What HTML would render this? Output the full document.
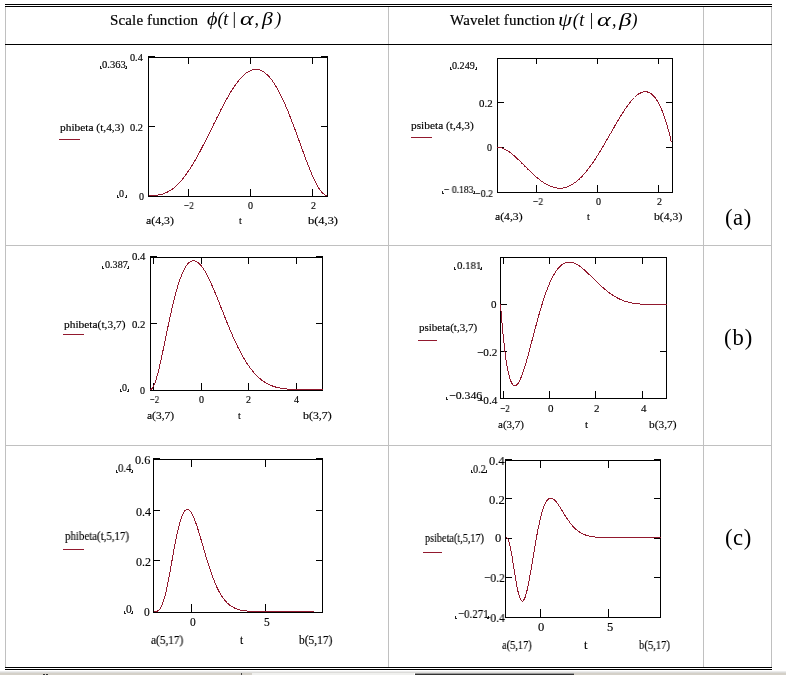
<!DOCTYPE html>
<html><head><meta charset="utf-8"><title>Beta wavelets</title>
<style>
html,body{margin:0;padding:0;background:#fff;}
body{width:786px;height:675px;position:relative;overflow:hidden;font-family:"Liberation Serif",serif;color:#000;}
svg{position:absolute;left:0;top:0;}
.l,.h,.m,.r{will-change:transform;}
.l{position:absolute;white-space:nowrap;line-height:20px;transform-origin:0 50%;font-family:"Liberation Serif",serif;-webkit-text-stroke:0.15px #000;}
.h{position:absolute;white-space:nowrap;font-size:15px;line-height:20px;top:9.5px;-webkit-text-stroke:0.2px #000;}
.m{position:absolute;white-space:nowrap;font-size:18px;line-height:24px;font-style:italic;top:7px;}
.m i{position:absolute;top:0;font-style:italic;transform-origin:0 50%;}
.r{position:absolute;white-space:nowrap;font-size:22.67px;line-height:28px;left:724.5px;}
.bar{position:absolute;left:0;top:671px;width:786px;height:4px;background:#fff;}
.bar b{position:absolute;display:block;}
</style></head><body>
<svg width="786" height="675" viewBox="0 0 786 675" shape-rendering="crispEdges">
<rect x="5" y="4" width="767" height="1" fill="#000"/>
<rect x="5" y="6" width="767" height="1" fill="#000"/>
<rect x="5" y="44" width="767" height="1" fill="#000"/>
<rect x="5" y="7" width="1" height="660" fill="#c0c0c0"/>
<rect x="388" y="7" width="1" height="660" fill="#c0c0c0"/>
<rect x="703" y="7" width="1" height="660" fill="#c0c0c0"/>
<rect x="771" y="7" width="1" height="660" fill="#c0c0c0"/>
<rect x="5" y="44" width="767" height="1" fill="#000"/>
<rect x="5" y="245" width="767" height="1" fill="#c0c0c0"/>
<rect x="5" y="445" width="767" height="1" fill="#c0c0c0"/>
<rect x="5" y="667" width="767" height="1" fill="#000"/>
<rect x="5" y="669" width="767" height="1" fill="#000"/>
<rect x="148" y="57" width="180" height="1" fill="#000"/>
<rect x="148" y="196" width="180" height="1" fill="#000"/>
<rect x="148" y="57" width="1" height="140" fill="#000"/>
<rect x="327" y="57" width="1" height="140" fill="#000"/>
<rect x="188" y="189" width="1" height="7" fill="#000"/>
<rect x="188" y="58" width="1" height="6" fill="#000"/>
<rect x="250" y="189" width="1" height="7" fill="#000"/>
<rect x="250" y="58" width="1" height="6" fill="#000"/>
<rect x="312" y="189" width="1" height="7" fill="#000"/>
<rect x="312" y="58" width="1" height="6" fill="#000"/>
<rect x="148" y="56" width="7" height="1" fill="#000"/>
<rect x="321" y="56" width="7" height="1" fill="#000"/>
<rect x="149" y="126" width="6" height="1" fill="#000"/>
<rect x="321" y="126" width="6" height="1" fill="#000"/>
<rect x="497" y="58" width="176" height="1" fill="#000"/>
<rect x="497" y="192" width="176" height="1" fill="#000"/>
<rect x="497" y="58" width="1" height="135" fill="#000"/>
<rect x="672" y="58" width="1" height="135" fill="#000"/>
<rect x="536" y="185" width="1" height="7" fill="#000"/>
<rect x="536" y="59" width="1" height="5" fill="#000"/>
<rect x="597" y="185" width="1" height="7" fill="#000"/>
<rect x="597" y="59" width="1" height="5" fill="#000"/>
<rect x="658" y="185" width="1" height="7" fill="#000"/>
<rect x="658" y="59" width="1" height="5" fill="#000"/>
<rect x="498" y="147" width="6" height="1" fill="#000"/>
<rect x="666" y="147" width="6" height="1" fill="#000"/>
<rect x="498" y="102" width="6" height="1" fill="#000"/>
<rect x="666" y="102" width="6" height="1" fill="#000"/>
<rect x="150" y="257" width="173" height="1" fill="#000"/>
<rect x="150" y="390" width="173" height="1" fill="#000"/>
<rect x="150" y="257" width="1" height="134" fill="#000"/>
<rect x="322" y="257" width="1" height="134" fill="#000"/>
<rect x="153" y="383" width="1" height="7" fill="#000"/>
<rect x="153" y="258" width="1" height="6" fill="#000"/>
<rect x="201" y="383" width="1" height="7" fill="#000"/>
<rect x="201" y="258" width="1" height="6" fill="#000"/>
<rect x="248" y="383" width="1" height="7" fill="#000"/>
<rect x="248" y="258" width="1" height="6" fill="#000"/>
<rect x="296" y="383" width="1" height="7" fill="#000"/>
<rect x="296" y="258" width="1" height="6" fill="#000"/>
<rect x="150" y="256" width="7" height="1" fill="#000"/>
<rect x="316" y="256" width="7" height="1" fill="#000"/>
<rect x="151" y="323" width="6" height="1" fill="#000"/>
<rect x="316" y="323" width="6" height="1" fill="#000"/>
<rect x="500" y="257" width="167" height="1" fill="#000"/>
<rect x="500" y="398" width="167" height="1" fill="#000"/>
<rect x="500" y="257" width="1" height="142" fill="#000"/>
<rect x="666" y="257" width="1" height="142" fill="#000"/>
<rect x="503" y="391" width="1" height="7" fill="#000"/>
<rect x="503" y="258" width="1" height="6" fill="#000"/>
<rect x="549" y="391" width="1" height="7" fill="#000"/>
<rect x="549" y="258" width="1" height="6" fill="#000"/>
<rect x="595" y="391" width="1" height="7" fill="#000"/>
<rect x="595" y="258" width="1" height="6" fill="#000"/>
<rect x="642" y="391" width="1" height="7" fill="#000"/>
<rect x="642" y="258" width="1" height="6" fill="#000"/>
<rect x="501" y="351" width="6" height="1" fill="#000"/>
<rect x="660" y="351" width="6" height="1" fill="#000"/>
<rect x="501" y="304" width="6" height="1" fill="#000"/>
<rect x="660" y="304" width="6" height="1" fill="#000"/>
<rect x="153" y="459" width="170" height="1" fill="#000"/>
<rect x="153" y="612" width="170" height="1" fill="#000"/>
<rect x="153" y="459" width="1" height="154" fill="#000"/>
<rect x="322" y="459" width="1" height="154" fill="#000"/>
<rect x="191" y="604" width="1" height="8" fill="#000"/>
<rect x="191" y="460" width="1" height="7" fill="#000"/>
<rect x="265" y="604" width="1" height="8" fill="#000"/>
<rect x="265" y="460" width="1" height="7" fill="#000"/>
<rect x="153" y="458" width="7" height="1" fill="#000"/>
<rect x="316" y="458" width="7" height="1" fill="#000"/>
<rect x="154" y="560" width="6" height="1" fill="#000"/>
<rect x="316" y="560" width="6" height="1" fill="#000"/>
<rect x="154" y="510" width="6" height="1" fill="#000"/>
<rect x="316" y="510" width="6" height="1" fill="#000"/>
<rect x="505" y="460" width="156" height="1" fill="#000"/>
<rect x="505" y="617" width="156" height="1" fill="#000"/>
<rect x="505" y="460" width="1" height="158" fill="#000"/>
<rect x="660" y="460" width="1" height="158" fill="#000"/>
<rect x="540" y="609" width="1" height="8" fill="#000"/>
<rect x="540" y="461" width="1" height="7" fill="#000"/>
<rect x="608" y="609" width="1" height="8" fill="#000"/>
<rect x="608" y="461" width="1" height="7" fill="#000"/>
<rect x="505" y="459" width="7" height="1" fill="#000"/>
<rect x="654" y="459" width="7" height="1" fill="#000"/>
<rect x="506" y="577" width="6" height="1" fill="#000"/>
<rect x="654" y="577" width="6" height="1" fill="#000"/>
<rect x="506" y="538" width="6" height="1" fill="#000"/>
<rect x="654" y="538" width="6" height="1" fill="#000"/>
<rect x="506" y="498" width="6" height="1" fill="#000"/>
<rect x="654" y="498" width="6" height="1" fill="#000"/>
<rect x="59" y="139" width="21" height="1" fill="#92192e"/>
<rect x="411" y="137" width="21" height="1" fill="#92192e"/>
<rect x="63" y="334" width="21" height="1" fill="#92192e"/>
<rect x="418" y="340" width="19" height="1" fill="#92192e"/>
<rect x="63" y="549" width="21" height="1" fill="#92192e"/>
<rect x="423" y="552" width="19" height="1" fill="#92192e"/>
<rect x="100" y="66" width="1" height="3" fill="#222"/>
<rect x="100" y="68" width="2" height="1" fill="#222"/>
<rect x="126" y="66" width="1" height="3" fill="#222"/>
<rect x="125" y="68" width="2" height="1" fill="#222"/>
<rect x="117" y="195" width="1" height="3" fill="#222"/>
<rect x="117" y="197" width="2" height="1" fill="#222"/>
<rect x="126" y="195" width="1" height="3" fill="#222"/>
<rect x="125" y="197" width="2" height="1" fill="#222"/>
<rect x="450" y="67" width="1" height="3" fill="#222"/>
<rect x="450" y="69" width="2" height="1" fill="#222"/>
<rect x="476" y="67" width="1" height="3" fill="#222"/>
<rect x="475" y="69" width="2" height="1" fill="#222"/>
<rect x="442" y="191" width="1" height="3" fill="#222"/>
<rect x="442" y="193" width="2" height="1" fill="#222"/>
<rect x="474" y="191" width="1" height="3" fill="#222"/>
<rect x="473" y="193" width="2" height="1" fill="#222"/>
<rect x="102" y="266" width="1" height="3" fill="#222"/>
<rect x="102" y="268" width="2" height="1" fill="#222"/>
<rect x="128" y="266" width="1" height="3" fill="#222"/>
<rect x="127" y="268" width="2" height="1" fill="#222"/>
<rect x="120" y="389" width="1" height="3" fill="#222"/>
<rect x="120" y="391" width="2" height="1" fill="#222"/>
<rect x="128" y="389" width="1" height="3" fill="#222"/>
<rect x="127" y="391" width="2" height="1" fill="#222"/>
<rect x="454" y="267" width="1" height="3" fill="#222"/>
<rect x="454" y="269" width="2" height="1" fill="#222"/>
<rect x="481" y="267" width="1" height="3" fill="#222"/>
<rect x="480" y="269" width="2" height="1" fill="#222"/>
<rect x="446" y="397" width="1" height="3" fill="#222"/>
<rect x="446" y="399" width="2" height="1" fill="#222"/>
<rect x="481" y="397" width="1" height="3" fill="#222"/>
<rect x="480" y="399" width="2" height="1" fill="#222"/>
<rect x="116" y="470" width="1" height="3" fill="#222"/>
<rect x="116" y="472" width="2" height="1" fill="#222"/>
<rect x="132" y="470" width="1" height="3" fill="#222"/>
<rect x="131" y="472" width="2" height="1" fill="#222"/>
<rect x="124" y="611" width="1" height="3" fill="#222"/>
<rect x="124" y="613" width="2" height="1" fill="#222"/>
<rect x="132" y="611" width="1" height="3" fill="#222"/>
<rect x="131" y="613" width="2" height="1" fill="#222"/>
<rect x="471" y="470" width="1" height="3" fill="#222"/>
<rect x="471" y="472" width="2" height="1" fill="#222"/>
<rect x="486" y="470" width="1" height="3" fill="#222"/>
<rect x="485" y="472" width="2" height="1" fill="#222"/>
<rect x="455" y="616" width="1" height="3" fill="#222"/>
<rect x="455" y="618" width="2" height="1" fill="#222"/>
<rect x="488" y="616" width="1" height="3" fill="#222"/>
<rect x="487" y="618" width="2" height="1" fill="#222"/>
</svg>
<svg width="786" height="675" viewBox="0 0 786 675" shape-rendering="crispEdges">
<path d="M148.5,195.5 L149.2,195.5 L150.0,195.5 L150.7,195.5 L151.5,195.5 L152.2,195.5 L153.0,195.4 L153.7,195.4 L154.5,195.4 L155.2,195.3 L156.0,195.3 L156.7,195.2 L157.4,195.1 L158.2,195.0 L158.9,194.9 L159.7,194.7 L160.4,194.6 L161.2,194.4 L161.9,194.2 L162.7,194.0 L163.4,193.7 L164.2,193.5 L164.9,193.2 L165.7,192.9 L166.4,192.5 L167.1,192.2 L167.9,191.8 L168.6,191.4 L169.4,191.0 L170.1,190.5 L170.9,190.0 L171.6,189.5 L172.4,189.0 L173.1,188.4 L173.9,187.9 L174.6,187.2 L175.3,186.6 L176.1,185.9 L176.8,185.2 L177.6,184.5 L178.3,183.8 L179.1,183.0 L179.8,182.2 L180.6,181.4 L181.3,180.5 L182.1,179.6 L182.8,178.7 L183.6,177.8 L184.3,176.8 L185.0,175.8 L185.8,174.8 L186.5,173.8 L187.3,172.7 L188.0,171.6 L188.8,170.5 L189.5,169.4 L190.3,168.3 L191.0,167.1 L191.8,165.9 L192.5,164.7 L193.2,163.4 L194.0,162.2 L194.7,160.9 L195.5,159.6 L196.2,158.3 L197.0,157.0 L197.7,155.6 L198.5,154.3 L199.2,152.9 L200.0,151.5 L200.7,150.1 L201.5,148.7 L202.2,147.2 L202.9,145.8 L203.7,144.3 L204.4,142.9 L205.2,141.4 L205.9,139.9 L206.7,138.4 L207.4,136.9 L208.2,135.5 L208.9,133.9 L209.7,132.4 L210.4,130.9 L211.2,129.4 L211.9,127.9 L212.6,126.4 L213.4,124.9 L214.1,123.4 L214.9,121.9 L215.6,120.4 L216.4,118.9 L217.1,117.4 L217.9,115.9 L218.6,114.4 L219.4,112.9 L220.1,111.5 L220.8,110.0 L221.6,108.6 L222.3,107.1 L223.1,105.7 L223.8,104.3 L224.6,102.9 L225.3,101.5 L226.1,100.2 L226.8,98.8 L227.6,97.5 L228.3,96.2 L229.1,94.9 L229.8,93.7 L230.5,92.4 L231.3,91.2 L232.0,90.0 L232.8,88.9 L233.5,87.7 L234.3,86.6 L235.0,85.5 L235.8,84.5 L236.5,83.5 L237.3,82.5 L238.0,81.5 L238.7,80.6 L239.5,79.7 L240.2,78.8 L241.0,78.0 L241.7,77.2 L242.5,76.4 L243.2,75.7 L244.0,75.0 L244.7,74.3 L245.5,73.7 L246.2,73.1 L246.9,72.6 L247.7,72.1 L248.4,71.6 L249.2,71.2 L249.9,70.9 L250.7,70.5 L251.4,70.2 L252.2,70.0 L252.9,69.8 L253.7,69.6 L254.4,69.5 L255.2,69.4 L255.9,69.4 L256.6,69.4 L257.4,69.5 L258.1,69.6 L258.9,69.8 L259.6,70.0 L260.4,70.3 L261.1,70.6 L261.9,70.9 L262.6,71.3 L263.4,71.7 L264.1,72.2 L264.9,72.8 L265.6,73.4 L266.3,74.0 L267.1,74.7 L267.8,75.4 L268.6,76.2 L269.3,77.0 L270.1,77.9 L270.8,78.8 L271.6,79.7 L272.3,80.7 L273.1,81.8 L273.8,82.9 L274.5,84.0 L275.3,85.2 L276.0,86.4 L276.8,87.7 L277.5,89.0 L278.3,90.4 L279.0,91.8 L279.8,93.2 L280.5,94.7 L281.3,96.2 L282.0,97.7 L282.8,99.3 L283.5,100.9 L284.2,102.6 L285.0,104.3 L285.7,106.0 L286.5,107.8 L287.2,109.5 L288.0,111.3 L288.7,113.2 L289.5,115.1 L290.2,116.9 L291.0,118.9 L291.7,120.8 L292.4,122.7 L293.2,124.7 L293.9,126.7 L294.7,128.7 L295.4,130.7 L296.2,132.8 L296.9,134.8 L297.7,136.9 L298.4,138.9 L299.2,141.0 L299.9,143.0 L300.6,145.1 L301.4,147.2 L302.1,149.2 L302.9,151.2 L303.6,153.3 L304.4,155.3 L305.1,157.3 L305.9,159.3 L306.6,161.3 L307.4,163.2 L308.1,165.1 L308.9,167.0 L309.6,168.9 L310.3,170.7 L311.1,172.5 L311.8,174.3 L312.6,176.0 L313.3,177.6 L314.1,179.3 L314.8,180.8 L315.6,182.3 L316.3,183.8 L317.1,185.1 L317.8,186.4 L318.5,187.7 L319.3,188.8 L320.0,189.9 L320.8,190.9 L321.5,191.8 L322.3,192.7 L323.0,193.4 L323.8,194.0 L324.5,194.5 L325.3,195.0 L326.0,195.3 L326.8,195.4 L327.5,195.5" fill="none" stroke="#92192e" stroke-width="1" stroke-linejoin="round"/>
<path d="M497.5,147.3 L498.2,147.4 L498.9,147.4 L499.7,147.5 L500.4,147.7 L501.1,147.8 L501.8,148.0 L502.6,148.3 L503.3,148.6 L504.0,148.9 L504.7,149.2 L505.5,149.6 L506.2,150.0 L506.9,150.4 L507.6,150.9 L508.4,151.3 L509.1,151.8 L509.8,152.3 L510.5,152.9 L511.3,153.4 L512.0,154.0 L512.7,154.6 L513.4,155.2 L514.2,155.8 L514.9,156.5 L515.6,157.1 L516.3,157.8 L517.1,158.5 L517.8,159.1 L518.5,159.8 L519.2,160.5 L520.0,161.2 L520.7,161.9 L521.4,162.7 L522.1,163.4 L522.9,164.1 L523.6,164.8 L524.3,165.6 L525.0,166.3 L525.8,167.0 L526.5,167.7 L527.2,168.5 L527.9,169.2 L528.7,169.9 L529.4,170.6 L530.1,171.3 L530.8,172.0 L531.6,172.7 L532.3,173.4 L533.0,174.1 L533.7,174.7 L534.5,175.4 L535.2,176.0 L535.9,176.7 L536.6,177.3 L537.4,177.9 L538.1,178.5 L538.8,179.1 L539.5,179.7 L540.3,180.2 L541.0,180.8 L541.7,181.3 L542.4,181.8 L543.2,182.3 L543.9,182.8 L544.6,183.3 L545.3,183.7 L546.1,184.1 L546.8,184.5 L547.5,184.9 L548.2,185.3 L549.0,185.6 L549.7,186.0 L550.4,186.3 L551.1,186.5 L551.9,186.8 L552.6,187.0 L553.3,187.3 L554.0,187.5 L554.8,187.6 L555.5,187.8 L556.2,187.9 L556.9,188.0 L557.7,188.1 L558.4,188.1 L559.1,188.2 L559.8,188.2 L560.5,188.2 L561.3,188.1 L562.0,188.0 L562.7,188.0 L563.4,187.8 L564.2,187.7 L564.9,187.5 L565.6,187.3 L566.3,187.1 L567.1,186.9 L567.8,186.6 L568.5,186.3 L569.2,186.0 L570.0,185.6 L570.7,185.3 L571.4,184.9 L572.1,184.5 L572.9,184.0 L573.6,183.5 L574.3,183.0 L575.0,182.5 L575.8,182.0 L576.5,181.4 L577.2,180.8 L577.9,180.2 L578.7,179.6 L579.4,178.9 L580.1,178.2 L580.8,177.5 L581.6,176.8 L582.3,176.0 L583.0,175.2 L583.7,174.4 L584.5,173.6 L585.2,172.7 L585.9,171.9 L586.6,171.0 L587.4,170.1 L588.1,169.2 L588.8,168.2 L589.5,167.3 L590.3,166.3 L591.0,165.3 L591.7,164.3 L592.4,163.2 L593.2,162.2 L593.9,161.1 L594.6,160.0 L595.3,158.9 L596.1,157.8 L596.8,156.7 L597.5,155.5 L598.2,154.4 L599.0,153.2 L599.7,152.0 L600.4,150.8 L601.1,149.6 L601.9,148.4 L602.6,147.2 L603.3,146.0 L604.0,144.7 L604.8,143.5 L605.5,142.2 L606.2,141.0 L606.9,139.7 L607.7,138.5 L608.4,137.2 L609.1,135.9 L609.8,134.7 L610.6,133.4 L611.3,132.1 L612.0,130.8 L612.7,129.6 L613.5,128.3 L614.2,127.1 L614.9,125.8 L615.6,124.6 L616.4,123.3 L617.1,122.1 L617.8,120.8 L618.5,119.6 L619.3,118.4 L620.0,117.2 L620.7,116.0 L621.4,114.9 L622.1,113.7 L622.9,112.6 L623.6,111.5 L624.3,110.4 L625.0,109.3 L625.8,108.2 L626.5,107.2 L627.2,106.1 L627.9,105.1 L628.7,104.2 L629.4,103.2 L630.1,102.3 L630.8,101.4 L631.6,100.6 L632.3,99.7 L633.0,98.9 L633.7,98.2 L634.5,97.5 L635.2,96.8 L635.9,96.1 L636.6,95.5 L637.4,94.9 L638.1,94.4 L638.8,93.9 L639.5,93.5 L640.3,93.1 L641.0,92.7 L641.7,92.4 L642.4,92.2 L643.2,92.0 L643.9,91.8 L644.6,91.8 L645.3,91.7 L646.1,91.7 L646.8,91.8 L647.5,92.0 L648.2,92.2 L649.0,92.5 L649.7,92.8 L650.4,93.2 L651.1,93.7 L651.9,94.2 L652.6,94.9 L653.3,95.6 L654.0,96.3 L654.8,97.2 L655.5,98.1 L656.2,99.1 L656.9,100.2 L657.7,101.4 L658.4,102.7 L659.1,104.0 L659.8,105.5 L660.6,107.0 L661.3,108.7 L662.0,110.4 L662.7,112.2 L663.5,114.1 L664.2,116.2 L664.9,118.3 L665.6,120.5 L666.4,122.9 L667.1,125.3 L667.8,127.9 L668.5,130.6 L669.3,133.4 L670.0,136.3 L670.7,139.3 L671.4,142.4" fill="none" stroke="#92192e" stroke-width="1" stroke-linejoin="round"/>
<path d="M150.5,389.5 L151.2,389.3 L151.9,388.7 L152.7,387.8 L153.4,386.6 L154.1,385.1 L154.8,383.3 L155.5,381.3 L156.2,379.0 L156.9,376.6 L157.7,373.9 L158.4,371.1 L159.1,368.2 L159.8,365.2 L160.5,362.0 L161.2,358.8 L162.0,355.5 L162.7,352.1 L163.4,348.7 L164.1,345.3 L164.8,341.8 L165.6,338.3 L166.3,334.9 L167.0,331.4 L167.7,328.0 L168.4,324.6 L169.1,321.2 L169.8,317.9 L170.6,314.6 L171.3,311.4 L172.0,308.3 L172.7,305.3 L173.4,302.3 L174.2,299.4 L174.9,296.6 L175.6,293.9 L176.3,291.3 L177.0,288.7 L177.7,286.3 L178.4,284.0 L179.2,281.8 L179.9,279.7 L180.6,277.7 L181.3,275.8 L182.0,274.1 L182.8,272.4 L183.5,270.9 L184.2,269.4 L184.9,268.1 L185.6,266.9 L186.3,265.8 L187.1,264.8 L187.8,263.9 L188.5,263.2 L189.2,262.5 L189.9,262.0 L190.6,261.5 L191.3,261.2 L192.1,260.9 L192.8,260.8 L193.5,260.7 L194.2,260.8 L194.9,260.9 L195.7,261.1 L196.4,261.5 L197.1,261.9 L197.8,262.4 L198.5,262.9 L199.2,263.6 L199.9,264.3 L200.7,265.1 L201.4,266.0 L202.1,266.9 L202.8,267.9 L203.5,269.0 L204.2,270.1 L205.0,271.3 L205.7,272.5 L206.4,273.8 L207.1,275.2 L207.8,276.6 L208.6,278.0 L209.3,279.5 L210.0,281.0 L210.7,282.5 L211.4,284.1 L212.1,285.7 L212.8,287.4 L213.6,289.1 L214.3,290.7 L215.0,292.5 L215.7,294.2 L216.4,295.9 L217.2,297.7 L217.9,299.5 L218.6,301.3 L219.3,303.1 L220.0,304.9 L220.7,306.7 L221.4,308.5 L222.2,310.3 L222.9,312.1 L223.6,313.9 L224.3,315.7 L225.0,317.5 L225.8,319.3 L226.5,321.1 L227.2,322.9 L227.9,324.6 L228.6,326.3 L229.3,328.1 L230.1,329.8 L230.8,331.5 L231.5,333.1 L232.2,334.8 L232.9,336.4 L233.6,338.1 L234.3,339.6 L235.1,341.2 L235.8,342.8 L236.5,344.3 L237.2,345.8 L237.9,347.2 L238.7,348.7 L239.4,350.1 L240.1,351.5 L240.8,352.8 L241.5,354.2 L242.2,355.5 L242.9,356.8 L243.7,358.0 L244.4,359.2 L245.1,360.4 L245.8,361.6 L246.5,362.7 L247.2,363.8 L248.0,364.9 L248.7,365.9 L249.4,366.9 L250.1,367.9 L250.8,368.9 L251.6,369.8 L252.3,370.7 L253.0,371.6 L253.7,372.4 L254.4,373.2 L255.1,374.0 L255.8,374.8 L256.6,375.5 L257.3,376.2 L258.0,376.9 L258.7,377.6 L259.4,378.2 L260.1,378.8 L260.9,379.4 L261.6,380.0 L262.3,380.5 L263.0,381.0 L263.7,381.5 L264.4,382.0 L265.2,382.4 L265.9,382.9 L266.6,383.3 L267.3,383.7 L268.0,384.0 L268.8,384.4 L269.5,384.7 L270.2,385.1 L270.9,385.4 L271.6,385.7 L272.3,385.9 L273.1,386.2 L273.8,386.4 L274.5,386.7 L275.2,386.9 L275.9,387.1 L276.6,387.3 L277.4,387.4 L278.1,387.6 L278.8,387.8 L279.5,387.9 L280.2,388.0 L280.9,388.2 L281.6,388.3 L282.4,388.4 L283.1,388.5 L283.8,388.6 L284.5,388.7 L285.2,388.8 L285.9,388.8 L286.7,388.9 L287.4,389.0 L288.1,389.0 L288.8,389.1 L289.5,389.1 L290.2,389.2 L291.0,389.2 L291.7,389.2 L292.4,389.3 L293.1,389.3 L293.8,389.3 L294.6,389.4 L295.3,389.4 L296.0,389.4 L296.7,389.4 L297.4,389.4 L298.1,389.4 L298.8,389.4 L299.6,389.5 L300.3,389.5 L301.0,389.5 L301.7,389.5 L302.4,389.5 L303.1,389.5 L303.9,389.5 L304.6,389.5 L305.3,389.5 L306.0,389.5 L306.7,389.5 L307.4,389.5 L308.2,389.5 L308.9,389.5 L309.6,389.5 L310.3,389.5 L311.0,389.5 L311.8,389.5 L312.5,389.5 L313.2,389.5 L313.9,389.5 L314.6,389.5 L315.3,389.5 L316.0,389.5 L316.8,389.5 L317.5,389.5 L318.2,389.5 L318.9,389.5 L319.6,389.5 L320.4,389.5 L321.1,389.5 L321.8,389.5 L322.5,389.5" fill="none" stroke="#92192e" stroke-width="1" stroke-linejoin="round"/>
<path d="M500.5,304.5 L501.2,313.6 L501.9,322.0 L502.6,329.7 L503.3,336.8 L504.0,343.4 L504.6,349.3 L505.3,354.7 L506.0,359.6 L506.7,364.0 L507.4,368.0 L508.1,371.4 L508.8,374.5 L509.5,377.1 L510.2,379.4 L510.9,381.3 L511.6,382.8 L512.3,384.0 L513.0,384.9 L513.6,385.5 L514.3,385.8 L515.0,385.9 L515.7,385.7 L516.4,385.2 L517.1,384.6 L517.8,383.8 L518.5,382.7 L519.2,381.5 L519.9,380.2 L520.6,378.6 L521.2,377.0 L521.9,375.2 L522.6,373.3 L523.3,371.3 L524.0,369.2 L524.7,367.0 L525.4,364.7 L526.1,362.4 L526.8,359.9 L527.5,357.5 L528.2,355.0 L528.9,352.4 L529.5,349.9 L530.2,347.3 L530.9,344.7 L531.6,342.0 L532.3,339.4 L533.0,336.8 L533.7,334.1 L534.4,331.5 L535.1,328.9 L535.8,326.3 L536.5,323.8 L537.2,321.2 L537.9,318.7 L538.5,316.3 L539.2,313.8 L539.9,311.4 L540.6,309.1 L541.3,306.8 L542.0,304.5 L542.7,302.3 L543.4,300.1 L544.1,298.0 L544.8,296.0 L545.5,294.0 L546.1,292.0 L546.8,290.2 L547.5,288.4 L548.2,286.6 L548.9,284.9 L549.6,283.3 L550.3,281.7 L551.0,280.2 L551.7,278.7 L552.4,277.4 L553.1,276.1 L553.8,274.8 L554.5,273.6 L555.1,272.5 L555.8,271.4 L556.5,270.4 L557.2,269.5 L557.9,268.6 L558.6,267.8 L559.3,267.0 L560.0,266.3 L560.7,265.7 L561.4,265.1 L562.1,264.5 L562.8,264.1 L563.4,263.6 L564.1,263.3 L564.8,263.0 L565.5,262.7 L566.2,262.5 L566.9,262.3 L567.6,262.2 L568.3,262.1 L569.0,262.1 L569.7,262.1 L570.4,262.1 L571.0,262.2 L571.7,262.3 L572.4,262.5 L573.1,262.7 L573.8,263.0 L574.5,263.2 L575.2,263.5 L575.9,263.9 L576.6,264.2 L577.3,264.6 L578.0,265.0 L578.7,265.5 L579.4,265.9 L580.0,266.4 L580.7,266.9 L581.4,267.5 L582.1,268.0 L582.8,268.6 L583.5,269.2 L584.2,269.8 L584.9,270.4 L585.6,271.0 L586.3,271.6 L587.0,272.3 L587.6,272.9 L588.3,273.6 L589.0,274.3 L589.7,274.9 L590.4,275.6 L591.1,276.3 L591.8,277.0 L592.5,277.6 L593.2,278.3 L593.9,279.0 L594.6,279.7 L595.3,280.4 L596.0,281.1 L596.6,281.7 L597.3,282.4 L598.0,283.1 L598.7,283.7 L599.4,284.4 L600.1,285.1 L600.8,285.7 L601.5,286.3 L602.2,287.0 L602.9,287.6 L603.6,288.2 L604.2,288.8 L604.9,289.4 L605.6,289.9 L606.3,290.5 L607.0,291.1 L607.7,291.6 L608.4,292.1 L609.1,292.7 L609.8,293.2 L610.5,293.7 L611.2,294.2 L611.9,294.6 L612.5,295.1 L613.2,295.5 L613.9,296.0 L614.6,296.4 L615.3,296.8 L616.0,297.2 L616.7,297.6 L617.4,297.9 L618.1,298.3 L618.8,298.6 L619.5,299.0 L620.2,299.3 L620.9,299.6 L621.5,299.9 L622.2,300.2 L622.9,300.4 L623.6,300.7 L624.3,301.0 L625.0,301.2 L625.7,301.4 L626.4,301.6 L627.1,301.8 L627.8,302.0 L628.5,302.2 L629.1,302.4 L629.8,302.5 L630.5,302.7 L631.2,302.8 L631.9,303.0 L632.6,303.1 L633.3,303.2 L634.0,303.3 L634.7,303.4 L635.4,303.5 L636.1,303.6 L636.8,303.7 L637.5,303.8 L638.1,303.9 L638.8,303.9 L639.5,304.0 L640.2,304.1 L640.9,304.1 L641.6,304.1 L642.3,304.2 L643.0,304.2 L643.7,304.3 L644.4,304.3 L645.1,304.3 L645.8,304.3 L646.4,304.4 L647.1,304.4 L647.8,304.4 L648.5,304.4 L649.2,304.4 L649.9,304.4 L650.6,304.5 L651.3,304.5 L652.0,304.5 L652.7,304.5 L653.4,304.5 L654.0,304.5 L654.7,304.5 L655.4,304.5 L656.1,304.5 L656.8,304.5 L657.5,304.5 L658.2,304.5 L658.9,304.5 L659.6,304.5 L660.3,304.5 L661.0,304.5 L661.7,304.5 L662.4,304.5 L663.0,304.5 L663.7,304.5 L664.4,304.5 L665.1,304.5 L665.8,304.5 L666.5,304.5" fill="none" stroke="#92192e" stroke-width="1" stroke-linejoin="round"/>
<path d="M153.5,611.5 L154.2,611.5 L154.8,611.5 L155.5,611.5 L156.2,611.4 L156.8,611.2 L157.5,611.0 L158.2,610.7 L158.8,610.1 L159.5,609.5 L160.2,608.6 L160.8,607.5 L161.5,606.2 L162.2,604.7 L162.8,603.0 L163.5,601.0 L164.2,598.8 L164.9,596.3 L165.5,593.7 L166.2,590.8 L166.9,587.8 L167.5,584.6 L168.2,581.3 L168.9,577.8 L169.5,574.3 L170.2,570.6 L170.9,566.9 L171.5,563.2 L172.2,559.5 L172.9,555.8 L173.5,552.1 L174.2,548.4 L174.9,544.9 L175.5,541.4 L176.2,538.1 L176.9,534.9 L177.5,531.8 L178.2,528.9 L178.9,526.2 L179.5,523.7 L180.2,521.3 L180.9,519.2 L181.5,517.2 L182.2,515.5 L182.9,514.0 L183.5,512.7 L184.2,511.6 L184.9,510.7 L185.5,510.1 L186.2,509.7 L186.9,509.4 L187.6,509.4 L188.2,509.6 L188.9,509.9 L189.6,510.5 L190.2,511.2 L190.9,512.1 L191.6,513.1 L192.2,514.3 L192.9,515.7 L193.6,517.1 L194.2,518.7 L194.9,520.4 L195.6,522.2 L196.2,524.1 L196.9,526.1 L197.6,528.1 L198.2,530.2 L198.9,532.4 L199.6,534.6 L200.2,536.8 L200.9,539.1 L201.6,541.4 L202.2,543.7 L202.9,546.0 L203.6,548.3 L204.2,550.6 L204.9,552.9 L205.6,555.2 L206.2,557.4 L206.9,559.6 L207.6,561.8 L208.2,564.0 L208.9,566.1 L209.6,568.1 L210.3,570.1 L210.9,572.1 L211.6,574.0 L212.3,575.9 L212.9,577.7 L213.6,579.4 L214.3,581.1 L214.9,582.8 L215.6,584.3 L216.3,585.9 L216.9,587.3 L217.6,588.7 L218.3,590.1 L218.9,591.3 L219.6,592.6 L220.3,593.7 L220.9,594.9 L221.6,595.9 L222.3,596.9 L222.9,597.9 L223.6,598.8 L224.3,599.7 L224.9,600.5 L225.6,601.3 L226.3,602.0 L226.9,602.7 L227.6,603.3 L228.3,603.9 L228.9,604.5 L229.6,605.0 L230.3,605.5 L231.0,606.0 L231.6,606.4 L232.3,606.8 L233.0,607.2 L233.6,607.6 L234.3,607.9 L235.0,608.2 L235.6,608.5 L236.3,608.8 L237.0,609.0 L237.6,609.2 L238.3,609.4 L239.0,609.6 L239.6,609.8 L240.3,610.0 L241.0,610.1 L241.6,610.2 L242.3,610.4 L243.0,610.5 L243.6,610.6 L244.3,610.7 L245.0,610.8 L245.6,610.8 L246.3,610.9 L247.0,611.0 L247.6,611.0 L248.3,611.1 L249.0,611.1 L249.6,611.2 L250.3,611.2 L251.0,611.2 L251.6,611.3 L252.3,611.3 L253.0,611.3 L253.7,611.3 L254.3,611.4 L255.0,611.4 L255.7,611.4 L256.3,611.4 L257.0,611.4 L257.7,611.4 L258.3,611.4 L259.0,611.4 L259.7,611.5 L260.3,611.5 L261.0,611.5 L261.7,611.5 L262.3,611.5 L263.0,611.5 L263.7,611.5 L264.3,611.5 L265.0,611.5 L265.7,611.5 L266.3,611.5 L267.0,611.5 L267.7,611.5 L268.3,611.5 L269.0,611.5 L269.7,611.5 L270.3,611.5 L271.0,611.5 L271.7,611.5 L272.3,611.5 L273.0,611.5 L273.7,611.5 L274.3,611.5 L275.0,611.5 L275.7,611.5 L276.4,611.5 L277.0,611.5 L277.7,611.5 L278.4,611.5 L279.0,611.5 L279.7,611.5 L280.4,611.5 L281.0,611.5 L281.7,611.5 L282.4,611.5 L283.0,611.5 L283.7,611.5 L284.4,611.5 L285.0,611.5 L285.7,611.5 L286.4,611.5 L287.0,611.5 L287.7,611.5 L288.4,611.5 L289.0,611.5 L289.7,611.5 L290.4,611.5 L291.0,611.5 L291.7,611.5 L292.4,611.5 L293.0,611.5 L293.7,611.5 L294.4,611.5 L295.0,611.5 L295.7,611.5 L296.4,611.5 L297.0,611.5 L297.7,611.5 L298.4,611.5 L299.1,611.5 L299.7,611.5 L300.4,611.5 L301.1,611.5 L301.7,611.5 L302.4,611.5 L303.1,611.5 L303.7,611.5 L304.4,611.5 L305.1,611.5 L305.7,611.5 L306.4,611.5 L307.1,611.5 L307.7,611.5 L308.4,611.5 L309.1,611.5 L309.7,611.5 L310.4,611.5 L311.1,611.5 L311.7,611.5 L312.4,611.5 L313.1,611.5 L313.7,611.5" fill="none" stroke="#92192e" stroke-width="1" stroke-linejoin="round"/>
<path d="M505.5,537.5 L506.1,537.5 L506.8,537.8 L507.4,538.4 L508.1,539.5 L508.7,541.1 L509.4,543.2 L510.0,545.8 L510.7,548.8 L511.3,552.2 L512.0,555.9 L512.6,559.9 L513.2,564.0 L513.9,568.2 L514.5,572.3 L515.2,576.4 L515.8,580.3 L516.5,584.0 L517.1,587.4 L517.8,590.6 L518.4,593.3 L519.1,595.7 L519.7,597.7 L520.4,599.2 L521.0,600.3 L521.6,600.9 L522.3,601.1 L522.9,600.9 L523.6,600.3 L524.2,599.2 L524.9,597.8 L525.5,596.0 L526.2,593.8 L526.8,591.4 L527.5,588.6 L528.1,585.7 L528.8,582.4 L529.4,579.1 L530.0,575.5 L530.7,571.8 L531.3,568.0 L532.0,564.2 L532.6,560.3 L533.3,556.4 L533.9,552.5 L534.6,548.7 L535.2,544.9 L535.9,541.1 L536.5,537.5 L537.1,534.0 L537.8,530.6 L538.4,527.3 L539.1,524.2 L539.7,521.3 L540.4,518.5 L541.0,515.9 L541.7,513.5 L542.3,511.3 L543.0,509.2 L543.6,507.3 L544.2,505.7 L544.9,504.2 L545.5,502.8 L546.2,501.7 L546.8,500.7 L547.5,499.9 L548.1,499.3 L548.8,498.8 L549.4,498.4 L550.1,498.2 L550.7,498.2 L551.4,498.2 L552.0,498.4 L552.6,498.7 L553.3,499.1 L553.9,499.6 L554.6,500.1 L555.2,500.8 L555.9,501.5 L556.5,502.3 L557.2,503.1 L557.8,504.0 L558.5,504.9 L559.1,505.9 L559.8,506.9 L560.4,507.9 L561.0,508.9 L561.7,509.9 L562.3,511.0 L563.0,512.0 L563.6,513.1 L564.3,514.1 L564.9,515.2 L565.6,516.2 L566.2,517.2 L566.9,518.2 L567.5,519.1 L568.1,520.1 L568.8,521.0 L569.4,521.9 L570.1,522.8 L570.7,523.6 L571.4,524.4 L572.0,525.2 L572.7,526.0 L573.3,526.7 L574.0,527.4 L574.6,528.0 L575.2,528.6 L575.9,529.2 L576.5,529.8 L577.2,530.3 L577.8,530.9 L578.5,531.3 L579.1,531.8 L579.8,532.2 L580.4,532.6 L581.1,533.0 L581.7,533.4 L582.4,533.7 L583.0,534.0 L583.6,534.3 L584.3,534.6 L584.9,534.8 L585.6,535.1 L586.2,535.3 L586.9,535.5 L587.5,535.7 L588.2,535.8 L588.8,536.0 L589.5,536.1 L590.1,536.3 L590.8,536.4 L591.4,536.5 L592.0,536.6 L592.7,536.7 L593.3,536.8 L594.0,536.9 L594.6,536.9 L595.3,537.0 L595.9,537.0 L596.6,537.1 L597.2,537.1 L597.9,537.2 L598.5,537.2 L599.1,537.3 L599.8,537.3 L600.4,537.3 L601.1,537.3 L601.7,537.4 L602.4,537.4 L603.0,537.4 L603.7,537.4 L604.3,537.4 L605.0,537.4 L605.6,537.4 L606.2,537.4 L606.9,537.5 L607.5,537.5 L608.2,537.5 L608.8,537.5 L609.5,537.5 L610.1,537.5 L610.8,537.5 L611.4,537.5 L612.1,537.5 L612.7,537.5 L613.4,537.5 L614.0,537.5 L614.6,537.5 L615.3,537.5 L615.9,537.5 L616.6,537.5 L617.2,537.5 L617.9,537.5 L618.5,537.5 L619.2,537.5 L619.8,537.5 L620.5,537.5 L621.1,537.5 L621.8,537.5 L622.4,537.5 L623.0,537.5 L623.7,537.5 L624.3,537.5 L625.0,537.5 L625.6,537.5 L626.3,537.5 L626.9,537.5 L627.6,537.5 L628.2,537.5 L628.9,537.5 L629.5,537.5 L630.1,537.5 L630.8,537.5 L631.4,537.5 L632.1,537.5 L632.7,537.5 L633.4,537.5 L634.0,537.5 L634.7,537.5 L635.3,537.5 L636.0,537.5 L636.6,537.5 L637.2,537.5 L637.9,537.5 L638.5,537.5 L639.2,537.5 L639.8,537.5 L640.5,537.5 L641.1,537.5 L641.8,537.5 L642.4,537.5 L643.1,537.5 L643.7,537.5 L644.4,537.5 L645.0,537.5 L645.6,537.5 L646.3,537.5 L646.9,537.5 L647.6,537.5 L648.2,537.5 L648.9,537.5 L649.5,537.5 L650.2,537.5 L650.8,537.5 L651.5,537.5 L652.1,537.5 L652.8,537.5 L653.4,537.5 L654.0,537.5 L654.7,537.5 L655.3,537.5 L656.0,537.5 L656.6,537.5 L657.3,537.5 L657.9,537.5 L658.6,537.5 L659.2,537.5 L659.9,537.5 L660.5,537.5" fill="none" stroke="#92192e" stroke-width="1" stroke-linejoin="round"/>
</svg>
<div class="h" id="h1" style="left:110px;letter-spacing:0.14px">Scale function</div>
<div class="m" id="m1" style="left:0"><i style="left:206.8px;transform:scaleX(1.12)">&#981;</i><i style="left:217.6px">(</i><i style="left:223.2px">t</i><i style="left:232.5px;font-style:normal;transform:scaleY(0.9) translateY(-0.4px)">|</i><i style="left:240.2px;transform:scaleX(1.42)">&#945;</i><i style="left:254.6px">,</i><i style="left:262px;transform:scaleX(1.2)">&#946;</i><i style="left:275.2px">)</i></div>
<div class="h" id="h2" style="left:449.5px;letter-spacing:0.17px">Wavelet function</div>
<div class="m" id="m2" style="left:0;top:7.5px"><i style="left:557.5px;transform:scaleX(1.25)">&#968;</i><i style="left:572.8px">(</i><i style="left:579.2px">t</i><i style="left:589.8px;font-style:normal;transform:scaleY(0.9) translateY(-0.4px)">|</i><i style="left:597.2px;transform:scaleX(1.45)">&#945;</i><i style="left:612px">,</i><i style="left:619.2px;transform:scaleX(1.38)">&#946;</i><i style="left:631.6px">)</i></div>
<div class="r" id="ra" style="top:204.4px;left:724.8px;letter-spacing:0.55px">(a)</div>
<div class="r" id="rb" style="top:324.2px;left:723.6px;letter-spacing:0.9px">(b)</div>
<div class="r" id="rc" style="top:524.2px;left:724.8px;letter-spacing:0.55px">(c)</div>
<span class="l" id="l0" style="left:130.4px;top:47.5px;font-size:10px;transform:scaleX(1.024)">0.4</span>
<span class="l" id="l1" style="left:101.6px;top:54.5px;font-size:10px;transform:scaleX(1.058)">0.363</span>
<span class="l" id="l2" style="left:130.4px;top:117.5px;font-size:10px;transform:scaleX(1.040)">0.2</span>
<span class="l" id="l3" style="left:59.6px;top:117.5px;font-size:10px;transform:scaleX(1.139)">phibeta (t,4,3)</span>
<span class="l" id="l4" style="left:119.2px;top:183.5px;font-size:10px;transform:scaleX(1.000)">0</span>
<span class="l" id="l5" style="left:138.5px;top:187.2px;font-size:10px;transform:scaleX(1.000)">0</span>
<span class="l" id="l6" style="left:184.1px;top:195.5px;font-size:10px;transform:scaleX(0.921)">−2</span>
<span class="l" id="l7" style="left:248.1px;top:195.5px;font-size:10px;transform:scaleX(1.000)">0</span>
<span class="l" id="l8" style="left:310.6px;top:195.5px;font-size:10px;transform:scaleX(1.000)">2</span>
<span class="l" id="l9" style="left:146.4px;top:211.0px;font-size:10px;transform:scaleX(1.186)">a(4,3)</span>
<span class="l" id="l10" style="left:239.1px;top:211.0px;font-size:10px;transform:scaleX(1.000)">t</span>
<span class="l" id="l11" style="left:307.8px;top:211.0px;font-size:10px;transform:scaleX(1.241)">b(4,3)</span>
<span class="l" id="l12" style="left:451.6px;top:55.5px;font-size:10px;transform:scaleX(1.013)">0.249</span>
<span class="l" id="l13" style="left:479.4px;top:93.5px;font-size:10px;transform:scaleX(1.088)">0.2</span>
<span class="l" id="l14" style="left:411.1px;top:115.5px;font-size:10px;transform:scaleX(1.136)">psibeta (t,4,3)</span>
<span class="l" id="l15" style="left:487.4px;top:138.0px;font-size:10px;transform:scaleX(1.000)">0</span>
<span class="l" id="l16" style="left:444.1px;top:179.5px;font-size:10px;transform:scaleX(0.956)">− 0.183</span>
<span class="l" id="l17" style="left:475.0px;top:183.8px;font-size:10px;transform:scaleX(0.981)">−0.2</span>
<span class="l" id="l18" style="left:532.6px;top:191.5px;font-size:10px;transform:scaleX(0.940)">−2</span>
<span class="l" id="l19" style="left:595.5px;top:191.5px;font-size:10px;transform:scaleX(1.000)">0</span>
<span class="l" id="l20" style="left:656.5px;top:191.5px;font-size:10px;transform:scaleX(1.000)">2</span>
<span class="l" id="l21" style="left:495.4px;top:207.0px;font-size:10px;transform:scaleX(1.169)">a(4,3)</span>
<span class="l" id="l22" style="left:586.6px;top:207.0px;font-size:10px;transform:scaleX(1.000)">t</span>
<span class="l" id="l23" style="left:654.1px;top:207.0px;font-size:10px;transform:scaleX(1.171)">b(4,3)</span>
<span class="l" id="l24" style="left:132.0px;top:247.1px;font-size:10px;transform:scaleX(1.072)">0.4</span>
<span class="l" id="l25" style="left:104.6px;top:254.5px;font-size:10px;transform:scaleX(1.013)">0.387</span>
<span class="l" id="l26" style="left:63.9px;top:315.1px;font-size:10px;transform:scaleX(1.142)">phibeta(t,3,7)</span>
<span class="l" id="l27" style="left:132.0px;top:314.9px;font-size:10px;transform:scaleX(1.072)">0.2</span>
<span class="l" id="l28" style="left:122.0px;top:377.5px;font-size:10px;transform:scaleX(1.000)">0</span>
<span class="l" id="l29" style="left:139.5px;top:381.3px;font-size:10px;transform:scaleX(1.000)">0</span>
<span class="l" id="l30" style="left:149.6px;top:389.9px;font-size:10px;transform:scaleX(0.846)">−2</span>
<span class="l" id="l31" style="left:199.3px;top:389.9px;font-size:10px;transform:scaleX(1.000)">0</span>
<span class="l" id="l32" style="left:245.8px;top:389.9px;font-size:10px;transform:scaleX(1.000)">2</span>
<span class="l" id="l33" style="left:293.9px;top:389.9px;font-size:10px;transform:scaleX(1.000)">4</span>
<span class="l" id="l34" style="left:147.3px;top:405.5px;font-size:10px;transform:scaleX(1.148)">a(3,7)</span>
<span class="l" id="l35" style="left:237.7px;top:405.5px;font-size:10px;transform:scaleX(1.000)">t</span>
<span class="l" id="l36" style="left:303.0px;top:405.5px;font-size:10px;transform:scaleX(1.187)">b(3,7)</span>
<span class="l" id="l37" style="left:456.6px;top:255.0px;font-size:11px;transform:scaleX(0.982)">0.181</span>
<span class="l" id="l38" style="left:490.6px;top:294.4px;font-size:11px;transform:scaleX(1.000)">0</span>
<span class="l" id="l39" style="left:418.6px;top:317.0px;font-size:11px;transform:scaleX(1.001)">psibeta(t,3,7)</span>
<span class="l" id="l40" style="left:477.3px;top:341.6px;font-size:11px;transform:scaleX(1.017)">−0.2</span>
<span class="l" id="l41" style="left:448.6px;top:384.8px;font-size:11px;transform:scaleX(1.075)">−0.346</span>
<span class="l" id="l42" style="left:477.3px;top:390.0px;font-size:11px;transform:scaleX(1.017)">−0.4</span>
<span class="l" id="l43" style="left:499.8px;top:398.0px;font-size:11px;transform:scaleX(0.836)">−2</span>
<span class="l" id="l44" style="left:548.4px;top:398.0px;font-size:11px;transform:scaleX(1.000)">0</span>
<span class="l" id="l45" style="left:594.1px;top:398.0px;font-size:11px;transform:scaleX(1.000)">2</span>
<span class="l" id="l46" style="left:640.8px;top:398.0px;font-size:11px;transform:scaleX(1.000)">4</span>
<span class="l" id="l47" style="left:497.9px;top:413.5px;font-size:11px;transform:scaleX(1.001)">a(3,7)</span>
<span class="l" id="l48" style="left:585.4px;top:413.5px;font-size:11px;transform:scaleX(1.000)">t</span>
<span class="l" id="l49" style="left:648.9px;top:413.5px;font-size:11px;transform:scaleX(1.035)">b(3,7)</span>
<span class="l" id="l50" style="left:135.3px;top:449.9px;font-size:11.5px;transform:scaleX(1.064)">0.6</span>
<span class="l" id="l51" style="left:118.1px;top:458.0px;font-size:11.5px;transform:scaleX(0.925)">0.4</span>
<span class="l" id="l52" style="left:135.5px;top:501.6px;font-size:11.5px;transform:scaleX(1.050)">0.4</span>
<span class="l" id="l53" style="left:64.9px;top:525.5px;font-size:11.5px;transform:scaleX(0.947)">phibeta(t,5,17)</span>
<span class="l" id="l54" style="left:135.5px;top:551.8px;font-size:11.5px;transform:scaleX(1.050)">0.2</span>
<span class="l" id="l55" style="left:125.6px;top:599.0px;font-size:11.5px;transform:scaleX(1.000)">0</span>
<span class="l" id="l56" style="left:143.7px;top:602.3px;font-size:11.5px;transform:scaleX(1.000)">0</span>
<span class="l" id="l57" style="left:189.6px;top:611.5px;font-size:11.5px;transform:scaleX(1.000)">0</span>
<span class="l" id="l58" style="left:263.9px;top:611.5px;font-size:11.5px;transform:scaleX(1.000)">5</span>
<span class="l" id="l59" style="left:150.6px;top:629.5px;font-size:11.5px;transform:scaleX(0.982)">a(5,17)</span>
<span class="l" id="l60" style="left:240.3px;top:629.5px;font-size:11.5px;transform:scaleX(1.000)">t</span>
<span class="l" id="l61" style="left:299.3px;top:629.5px;font-size:11.5px;transform:scaleX(0.993)">b(5,17)</span>
<span class="l" id="l62" style="left:489.4px;top:450.8px;font-size:12.5px;transform:scaleX(0.986)">0.4</span>
<span class="l" id="l63" style="left:472.6px;top:458.5px;font-size:12.5px;transform:scaleX(0.819)">0.2</span>
<span class="l" id="l64" style="left:489.3px;top:489.8px;font-size:12.5px;transform:scaleX(1.005)">0.2</span>
<span class="l" id="l65" style="left:424.8px;top:528.0px;font-size:12.5px;transform:scaleX(0.817)">psibeta(t,5,17)</span>
<span class="l" id="l66" style="left:495.1px;top:528.4px;font-size:12.5px;transform:scaleX(1.000)">0</span>
<span class="l" id="l67" style="left:483.6px;top:568.4px;font-size:12.5px;transform:scaleX(0.917)">−0.2</span>
<span class="l" id="l68" style="left:457.6px;top:603.5px;font-size:12.5px;transform:scaleX(0.870)">−0.271</span>
<span class="l" id="l69" style="left:483.6px;top:608.4px;font-size:12.5px;transform:scaleX(0.917)">−0.4</span>
<span class="l" id="l70" style="left:538.2px;top:616.6px;font-size:12.5px;transform:scaleX(1.000)">0</span>
<span class="l" id="l71" style="left:606.7px;top:616.6px;font-size:12.5px;transform:scaleX(1.000)">5</span>
<span class="l" id="l72" style="left:502.1px;top:635.2px;font-size:12.5px;transform:scaleX(0.834)">a(5,17)</span>
<span class="l" id="l73" style="left:583.9px;top:635.2px;font-size:12.5px;transform:scaleX(1.000)">t</span>
<span class="l" id="l74" style="left:638.8px;top:635.2px;font-size:12.5px;transform:scaleX(0.850)">b(5,17)</span>
<div class="bar"><b style="left:0;width:786px;top:0;height:1px;background:#ececec"></b><b style="left:0;width:786px;top:1px;height:1px;background:#dcdcda"></b><b style="left:0;width:252px;top:2px;height:2px;background:#d4d0c8"></b><b style="left:252px;width:162px;top:2px;height:2px;background:#f0f0ee"></b><b style="left:415px;width:159px;top:2px;height:1px;background:#9a9a9a"></b><b style="left:415px;width:159px;top:3px;height:1px;background:#333"></b><b style="left:574px;width:212px;top:2px;height:2px;background:#d4d0c8"></b><b style="left:43px;width:2px;top:3px;height:1px;background:#333"></b><b style="left:46px;width:2px;top:3px;height:1px;background:#333"></b><b style="left:241px;width:1px;top:2px;height:2px;background:#444"></b></div>
</body></html>
